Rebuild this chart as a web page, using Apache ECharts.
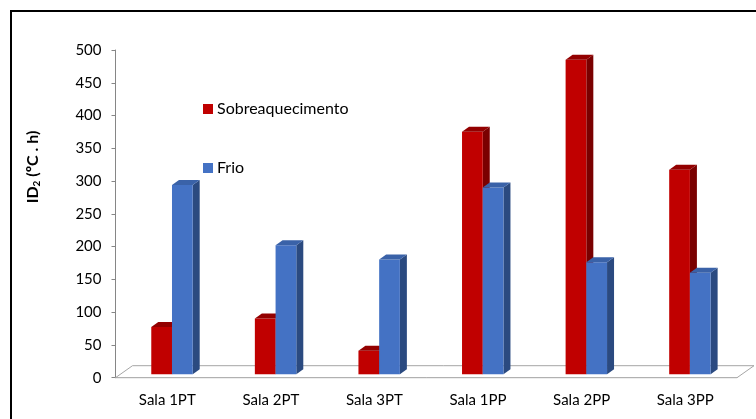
<!DOCTYPE html>
<html>
<head>
<meta charset="utf-8">
<script src="https://cdn.jsdelivr.net/npm/echarts@6/dist/echarts.min.js"></script>
<style>
html,body{margin:0;padding:0;background:#fff;}
#chart{width:756px;height:419px;}
</style>
</head>
<body>
<div id="chart"></div>
<script>
const categories = ['Sala 1PT', 'Sala 2PT', 'Sala 3PT', 'Sala 1PP', 'Sala 2PP', 'Sala 3PP'];
const sobreaquecimento = [72, 85, 36, 370, 480, 312];
const frio = [289, 197, 175, 285, 171, 155];
const seriesNames = ['Sobreaquecimento', 'Frio'];
const yMin = 0, yMax = 500, yStep = 50;

const FONT = 'Lato';
const chart = echarts.init(document.getElementById('chart'), null, {renderer: 'canvas'});

const palette = [
  {front: '#C00000', side: '#7A0000', top: '#930000'},
  {front: '#4472C4', side: '#2B4A80', top: '#3A62A8'}
];

function barRenderer(idx) {
  return function (params, api) {
    const cat = api.value(0), val = api.value(1);
    const base = api.coord([cat, 0]);
    const top = api.coord([cat, val]);
    const band = api.size([1, 0])[0];
    const w = band * 0.2;
    const sx = 4.7, sy = -3.4, dx = 7, dy = -5;
    const x0 = base[0] + sx + (idx === 0 ? -w : 0);
    const yb = base[1] + sy, yt = top[1] + sy;
    const c = palette[idx];
    return {
      type: 'group',
      children: [
        {type: 'polygon', shape: {points: [[x0 + w, yb], [x0 + w, yt], [x0 + w + dx, yt + dy], [x0 + w + dx, yb + dy]]}, style: {fill: c.side}},
        {type: 'rect', shape: {x: x0, y: yt, width: w, height: yb - yt}, style: {fill: c.front}},
        {type: 'polygon', shape: {points: [[x0, yt], [x0 + dx, yt + dy], [x0 + w + dx, yt + dy], [x0 + w, yt]]}, style: {fill: c.top}}
      ]
    };
  };
}

function floorRenderer(params, api) {
  const cs = params.coordSys;
  const xl = cs.x, xr = cs.x + cs.width, yf = cs.y + cs.height;
  const fdx = 17, fdy = -12;
  return {
    type: 'group',
    children: [
      {type: 'polygon', shape: {points: [[xl, yf], [xl + fdx, yf + fdy], [xr + fdx, yf + fdy], [xr, yf]]},
        style: {fill: '#ffffff', stroke: '#A6A6A6', lineWidth: 1}}
    ]
  };
}

const option = {
  backgroundColor: '#ffffff',
  animation: false,
  textStyle: {fontFamily: FONT},
  grid: {left: 115.5, right: 19, top: 50, bottom: 41.3, containLabel: false},
  legend: {
    data: seriesNames,
    orient: 'vertical',
    left: 203,
    top: 101,
    padding: 0,
    itemWidth: 10,
    itemHeight: 10,
    itemGap: 43,
    icon: 'rect',
    textStyle: {fontFamily: FONT, fontSize: 16, color: '#000', padding: [0, 0, 0, -1]}
  },
  xAxis: {
    type: 'category',
    data: categories,
    boundaryGap: true,
    axisLine: {show: true, lineStyle: {color: '#868686', width: 1}},
    axisTick: {show: false},
    axisLabel: {color: '#000', fontFamily: FONT, fontSize: 15, margin: 15},
    splitLine: {show: false}
  },
  yAxis: {
    type: 'value',
    min: yMin, max: yMax, interval: yStep,
    axisLine: {show: true, lineStyle: {color: '#868686', width: 1}},
    axisTick: {show: true, length: 4, lineStyle: {color: '#868686'}},
    axisLabel: {color: '#000', fontFamily: FONT, fontSize: 15, margin: 14},
    splitLine: {show: false}
  },
  graphic: [
    {type: 'rect', shape: {x: 11, y: 11, width: 800, height: 500}, style: {fill: 'none', stroke: '#000', lineWidth: 2}, z: 100},
    {
      type: 'text', x: 33, y: 167, rotation: Math.PI / 2,
      style: {
        rich: {
          a: {fontFamily: FONT, fontSize: 16, fontWeight: 'bold', fill: '#000'},
          s: {fontFamily: FONT, fontSize: 10, fontWeight: 'bold', fill: '#000', verticalAlign: 'bottom', padding: [7, 0, 0, 0]}
        },
        text: '{a|ID}{s|2}{a| (ºC . h)}',
        align: 'center', verticalAlign: 'middle'
      }
    }
  ],
  series: [
    {type: 'custom', name: 'floor', silent: true, z: 1, renderItem: floorRenderer, data: [[0, 0]], encode: {x: 0, y: 1}},
    {type: 'custom', name: seriesNames[0], z: 2, itemStyle: {color: palette[0].front}, renderItem: barRenderer(0),
      data: sobreaquecimento.map((v, i) => [i, v]), encode: {x: 0, y: 1}},
    {type: 'custom', name: seriesNames[1], z: 3, itemStyle: {color: palette[1].front}, renderItem: barRenderer(1),
      data: frio.map((v, i) => [i, v]), encode: {x: 0, y: 1}}
  ]
};
chart.setOption(option);
</script>
</body>
</html>
